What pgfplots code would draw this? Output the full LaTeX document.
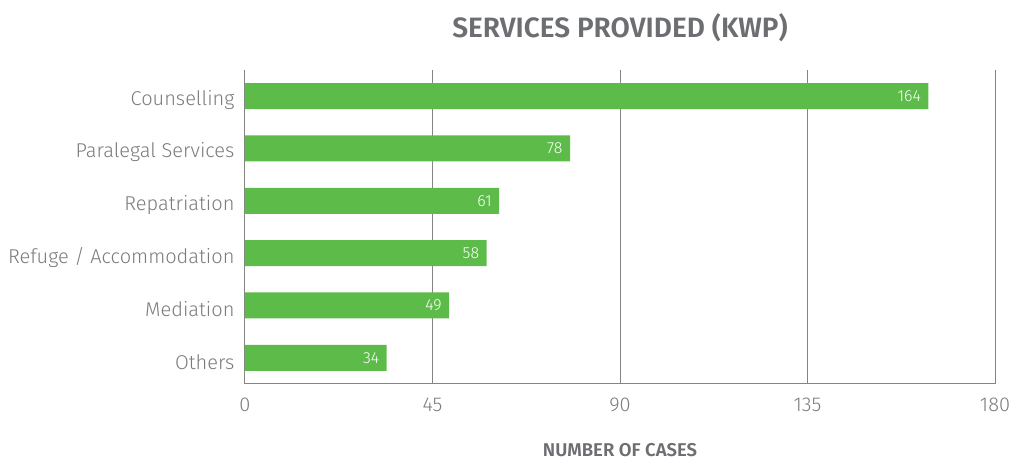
\documentclass[border=0pt]{standalone}
\usepackage{fontspec}
\setmainfont{Fira Sans}[UprightFont=* Light, BoldFont=* SemiBold]
\usepackage{pgfplots}
\pgfplotsset{compat=1.18}
\definecolor{bargreen}{HTML}{5DBB4A}
\definecolor{txtgrey}{HTML}{6D6E71}
\definecolor{lblgrey}{HTML}{7A7B7E}
\definecolor{gridgrey}{HTML}{858585}
\begin{document}
\begin{tikzpicture}
\path[use as bounding box] (0,0) rectangle (1013pt,460pt);
\begin{axis}[
  at={(245pt,76pt)}, anchor=south west,
  scale only axis, width=750pt, height=314pt,
  xbar, bar width=26pt,
  xmin=0, xmax=180, ymin=-0.5, ymax=5.5,
  xtick={0,45,90,135,180},
  ytick={0,1,2,3,4,5},
  yticklabels={Others,Mediation,Refuge / Accommodation,Repatriation,Paralegal Services,Counselling},
  axis x line*=bottom, axis y line*=left,
  axis line style={gridgrey, line width=1pt, -},
  xmajorgrids, grid style={gridgrey, line width=1pt},
  major tick length=0pt,
  /pgf/number format/assume math mode=true,
  tick label style={font=\fontsize{20}{22}\selectfont, lblgrey},
  xticklabel style={yshift=-10pt},
  yticklabel style={xshift=-7pt, yshift=-4pt},
  nodes near coords,
  nodes near coords style={anchor=east, xshift=-4pt, white, font=\fontsize{16}{18}\selectfont},
  title={\textbf{SERVICES PROVIDED (KWP)}},
  title style={at={(0.5,1)}, anchor=center, yshift=36pt, font=\fontsize{28}{30}\selectfont, txtgrey},
  xlabel={\textbf{NUMBER OF CASES}},
  xlabel style={at={(axis description cs:0.5,0)}, anchor=center, yshift=-66pt, font=\fontsize{18.5}{20}\selectfont, txtgrey},
]
\addplot[fill=bargreen, draw=none] coordinates {(34,0) (49,1) (58,2) (61,3) (78,4) (164,5)};
\end{axis}
\end{tikzpicture}
\end{document}
